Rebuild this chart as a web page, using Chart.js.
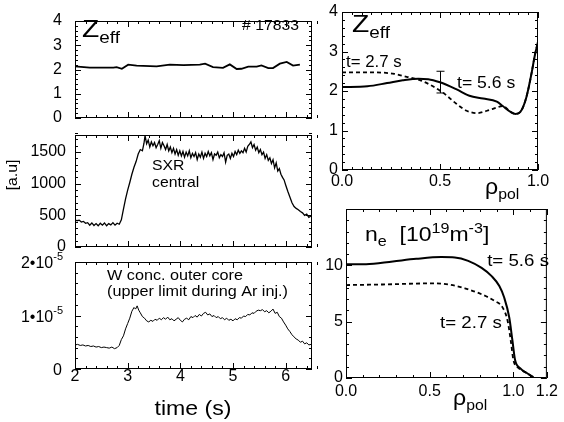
<!DOCTYPE html>
<html>
<head>
<meta charset="utf-8">
<script src="https://cdn.jsdelivr.net/npm/chart.js@4/dist/chart.umd.min.js"></script>
<style>
  body { margin: 0; background: #fff; }
  #wrap { position: relative; width: 564px; height: 422px; background: #fff; }
  #wrap canvas { position: absolute; left: 0; top: 0; }
</style>
</head>
<body>
<div id="wrap">
  <canvas id="zeffTime" width="564" height="422"></canvas>
  <canvas id="sxr" width="564" height="422"></canvas>
  <canvas id="wconc" width="564" height="422"></canvas>
  <canvas id="zeffProf" width="564" height="422"></canvas>
  <canvas id="neProf" width="564" height="422"></canvas>
</div>
<script>
// ---- data (shot # 17833) ----

// Zeff vs time
const zeffT = [2.00, 2.28, 2.73, 2.79, 2.89, 3.01, 3.17, 3.55, 3.80, 4.06, 4.37, 4.47, 4.62,
  4.81, 4.94, 5.07, 5.16, 5.29, 5.45, 5.54, 5.67, 5.76, 5.89, 6.02, 6.14, 6.27];
const zeffV = [2.13, 2.08, 2.08, 2.10, 2.03, 2.20, 2.16, 2.13, 2.20, 2.18, 2.20, 2.24, 2.10,
  2.07, 2.21, 2.02, 2.03, 2.12, 2.12, 2.17, 2.06, 2.06, 2.24, 2.31, 2.16, 2.20];

// SXR central [a.u]
const sxrT = [2.00, 2.04, 2.08, 2.12, 2.16, 2.20, 2.24, 2.28, 2.32, 2.36, 2.40, 2.44, 2.48, 2.52,
  2.56, 2.60, 2.64, 2.68, 2.72, 2.76, 2.80, 2.84, 2.88, 2.92, 2.96, 3.00, 3.04, 3.08, 3.12, 3.16,
  3.20, 3.24, 3.28, 3.31, 3.33, 3.36, 3.39, 3.42, 3.45, 3.48, 3.51, 3.54, 3.57, 3.60, 3.63, 3.66,
  3.69, 3.72, 3.75, 3.78, 3.81, 3.84, 3.87, 3.90, 3.93, 3.96, 3.99, 4.02, 4.05, 4.08, 4.11, 4.14,
  4.17, 4.20, 4.23, 4.26, 4.29, 4.32, 4.35, 4.38, 4.41, 4.44, 4.47, 4.50, 4.53, 4.56, 4.59, 4.62,
  4.65, 4.68, 4.71, 4.74, 4.77, 4.80, 4.83, 4.86, 4.89, 4.92, 4.95, 4.98, 5.01, 5.04, 5.07, 5.10,
  5.13, 5.16, 5.19, 5.22, 5.25, 5.28, 5.31, 5.34, 5.37, 5.40, 5.43, 5.46, 5.49, 5.52, 5.55, 5.58,
  5.61, 5.64, 5.67, 5.70, 5.73, 5.76, 5.79, 5.82, 5.85, 5.88, 5.91, 5.94, 5.97, 6.00, 6.04, 6.08,
  6.12, 6.16, 6.20, 6.24, 6.28, 6.32, 6.36, 6.40, 6.44, 6.48];
const sxrV = [430, 415, 425, 395, 405, 375, 385, 345, 380, 340, 370, 335, 375, 345,
  380, 335, 370, 350, 385, 345, 375, 360, 430, 600, 760, 900, 1020, 1150, 1260, 1350,
  1470, 1540, 1520, 1640, 1760, 1630, 1690, 1580, 1660, 1600, 1650, 1570, 1620, 1680, 1560, 1650,
  1600, 1540, 1620, 1520, 1580, 1490, 1560, 1470, 1540, 1450, 1520, 1440, 1510, 1420, 1500, 1440,
  1520, 1410, 1480, 1430, 1490, 1380, 1470, 1420, 1500, 1400, 1480, 1430, 1510, 1440, 1490, 1380,
  1470, 1450, 1500, 1410, 1460, 1430, 1490, 1340, 1450, 1470, 1400, 1480, 1430, 1510, 1460, 1530,
  1480, 1520, 1490, 1560, 1500, 1590, 1620, 1660, 1570, 1620, 1530, 1580, 1490, 1540, 1460, 1500,
  1400, 1460, 1370, 1410, 1320, 1380, 1250, 1330, 1200, 1240, 1150, 1100, 1060, 980, 880, 790,
  700, 640, 610, 590, 560, 540, 500, 520, 470, 490];

// W concentration, outer core, in units of 1e-5
const wT = [2.00, 2.05, 2.10, 2.15, 2.20, 2.25, 2.30, 2.35, 2.40, 2.45, 2.50, 2.55, 2.60, 2.65,
  2.70, 2.75, 2.80, 2.84, 2.88, 2.92, 2.96, 3.00, 3.04, 3.08, 3.12, 3.15, 3.18, 3.21, 3.24, 3.28,
  3.32, 3.36, 3.40, 3.44, 3.48, 3.52, 3.56, 3.60, 3.64, 3.68, 3.72, 3.76, 3.80, 3.84, 3.88, 3.92,
  3.96, 4.00, 4.04, 4.08, 4.12, 4.16, 4.20, 4.24, 4.28, 4.32, 4.36, 4.40, 4.44, 4.48, 4.52, 4.56,
  4.60, 4.64, 4.68, 4.72, 4.76, 4.80, 4.84, 4.88, 4.92, 4.96, 5.00, 5.04, 5.08, 5.12, 5.16, 5.20,
  5.24, 5.28, 5.32, 5.36, 5.40, 5.44, 5.48, 5.52, 5.56, 5.60, 5.64, 5.68, 5.72, 5.76, 5.80, 5.84,
  5.88, 5.92, 5.96, 6.00, 6.04, 6.08, 6.12, 6.16, 6.20, 6.24, 6.28, 6.32, 6.36, 6.40, 6.44, 6.48];
const wE5 = [0.45, 0.46, 0.44, 0.45, 0.43, 0.44, 0.42, 0.43, 0.41, 0.42, 0.40, 0.41, 0.40, 0.39,
  0.41, 0.38, 0.40, 0.44, 0.55, 0.62, 0.75, 0.85, 0.95, 1.08, 1.15, 1.12, 1.18, 1.10, 1.05, 0.98,
  0.95, 0.90, 0.88, 0.91, 0.89, 0.93, 0.91, 0.95, 0.92, 0.96, 0.93, 0.97, 0.92, 0.94, 0.90, 0.93,
  0.96, 0.91, 0.88, 0.93, 0.95, 0.92, 0.98, 0.96, 1.00, 0.97, 1.02, 0.99, 1.04, 1.06, 1.01, 1.03,
  0.98, 1.00, 0.96, 0.98, 0.94, 0.96, 0.92, 0.95, 0.91, 0.93, 0.90, 0.94, 0.92, 0.96, 0.95, 0.99,
  0.98, 1.02, 1.01, 1.05, 1.04, 1.08, 1.10, 1.09, 1.11, 1.07, 1.09, 1.05, 1.08, 1.12, 1.04, 1.06,
  0.98, 0.95, 0.88, 0.82, 0.75, 0.70, 0.64, 0.60, 0.56, 0.54, 0.50, 0.52, 0.47, 0.49, 0.45, 0.46];

// Zeff profiles vs rho_pol
const zpRho56 = [0.00, 0.13, 0.23, 0.31, 0.39, 0.44, 0.50, 0.585, 0.65, 0.72, 0.79, 0.82, 0.86,
  0.885, 0.91, 0.94, 0.966, 0.983, 1.00];
const zp56 = [2.10, 2.12, 2.20, 2.27, 2.31, 2.30, 2.22, 2.04, 1.88, 1.81, 1.73, 1.62, 1.47,
  1.42, 1.47, 1.83, 2.42, 2.88, 3.25];
const zpRho27 = [0.00, 0.16, 0.26, 0.33, 0.40, 0.47, 0.52, 0.585, 0.636, 0.69, 0.74, 0.79, 0.82,
  0.86, 0.885, 0.91, 0.94, 0.966, 0.983, 1.00];
const zp27 = [2.47, 2.47, 2.44, 2.36, 2.27, 2.10, 1.94, 1.67, 1.50, 1.44, 1.50, 1.58, 1.62,
  1.47, 1.42, 1.47, 1.83, 2.42, 2.88, 3.25];
const zpErr = { rho: 0.5, lo: 1.95, hi: 2.50 };

// ne profiles [1e19 m^-3] vs rho_pol
const neRho56 = [0.00, 0.12, 0.28, 0.42, 0.57, 0.65, 0.73, 0.81, 0.87, 0.916, 0.945, 0.975,
  0.994, 1.01, 1.04, 1.08, 1.12];
const ne56 = [10.1, 10.1, 10.35, 10.58, 10.73, 10.7, 10.4, 9.77, 9.04, 8.16, 7.14, 5.39,
  3.35, 1.6, 0.87, 0.44, 0.06];
const neRho27 = [0.00, 0.22, 0.51, 0.61, 0.71, 0.81, 0.886, 0.935, 0.965, 0.984, 1.00, 1.03,
  1.08, 1.12];
const ne27 = [8.25, 8.3, 8.4, 8.3, 7.96, 7.43, 6.85, 6.27, 5.1, 3.35, 1.6, 0.9, 0.44, 0.06];

// tick values
const timeTicks = [2, 3, 4, 5, 6];
const zeffTicks = [0, 1, 2, 3, 4];
const sxrTicks = [0, 500, 1000, 1500];
const wTicks = [0, 1, 2];
const wTickLabels = ['0', '1\u202210', '2\u202210'];
const rhoTicks = [0, 0.5, 1.0];
const rhoTicksNe = [0, 0.5, 1.0, 1.2];
const neTicks = [0, 5, 10];

// ---- drawing helpers ----
const FONT = '"Liberation Sans", Arial, Helvetica, sans-serif';
Chart.defaults.font.family = FONT;
Chart.defaults.color = '#000';

function pts(xs, ys) {
  return xs.map((x, i) => ({ x: x, y: ys[i] }));
}

// segs: [text, size, dy]; sx = horizontal stretch of the lettering
function rich(ctx, x, y, segs, align, sx) {
  sx = sx || 1.05;
  ctx.save();
  let w = 0;
  segs.forEach(g => { ctx.font = g[1] + 'px ' + FONT; w += ctx.measureText(g[0]).width; });
  w *= sx;
  let cx = align === 'right' ? x - w : align === 'center' ? x - w / 2 : x;
  ctx.fillStyle = '#000';
  ctx.textAlign = 'left';
  ctx.textBaseline = 'alphabetic';
  segs.forEach(g => {
    ctx.font = g[1] + 'px ' + FONT;
    const m = ctx.measureText(g[0]).width;
    ctx.save();
    ctx.translate(cx, y + (g[2] || 0));
    ctx.scale(sx, 1);
    ctx.fillText(g[0], 0, 0);
    ctx.restore();
    cx += m * sx;
  });
  ctx.restore();
}

// box with inward major/minor ticks on all four sides
const framePlugin = {
  id: 'frame',
  afterDatasetsDraw(chart, args, o) {
    const { ctx, chartArea: a, scales } = chart;
    ctx.save();
    ctx.strokeStyle = '#000';
    ctx.lineWidth = 1;
    ctx.strokeRect(a.left + 0.5, a.top + 0.5, a.right - a.left - 1, a.bottom - a.top - 1);
    ctx.beginPath();
    ['x', 'y'].forEach(k => {
      const sc = scales[k];
      const step = o[k + 'Minor'];
      const majors = o[k + 'Major'];
      const n = Math.round((sc.max - sc.min) / step);
      for (let i = 0; i <= n; i++) {
        const v = sc.min + i * step;
        const isMajor = majors.some(m => Math.abs(m - v) < step / 10);
        const len = isMajor ? 6 : 3;
        const p = Math.round(sc.getPixelForValue(v)) + 0.5;
        if (k === 'x') {
          ctx.moveTo(p, a.bottom); ctx.lineTo(p, a.bottom - len);
          ctx.moveTo(p, a.top); ctx.lineTo(p, a.top + len);
        } else {
          ctx.moveTo(a.left, p); ctx.lineTo(a.left + len, p);
          ctx.moveTo(a.right, p); ctx.lineTo(a.right - len, p);
        }
      }
    });
    ctx.stroke();
    ctx.restore();
  }
};

function panel(id, box, datasets, sx, sy, notes) {
  const AX = box[0] - 4, AY = 30;
  return new Chart(document.getElementById(id), {
    type: 'line',
    data: { datasets: datasets },
    options: {
      responsive: false,
      animation: false,
      devicePixelRatio: 1,
      layout: { padding: { left: box[0] - AX, top: box[1], right: 564 - box[2], bottom: 422 - box[3] - AY } },
      elements: { point: { radius: 0 } },
      plugins: {
        legend: { display: false },
        tooltip: { enabled: false },
        frame: { xMajor: sx.ticks, xMinor: sx.minor, yMajor: sy.ticks, yMinor: sy.minor }
      },
      scales: {
        x: {
          type: 'linear', min: sx.min, max: sx.max,
          afterFit: s => { s.height = AY; },
          afterBuildTicks: s => { s.ticks = sx.ticks.map(v => ({ value: v })); },
          grid: { display: false, drawTicks: false },
          border: { display: false },
          ticks: { display: sx.show, padding: sx.pad, font: { size: 16, lineHeight: 1 }, callback: sx.fmt, maxRotation: 0, autoSkip: false }
        },
        y: {
          type: 'linear', min: sy.min, max: sy.max,
          afterFit: s => { s.width = AX; },
          afterBuildTicks: s => { s.ticks = sy.ticks.map(v => ({ value: v })); },
          grid: { display: false, drawTicks: false },
          border: { display: false },
          ticks: { display: sy.show, padding: sy.pad, font: { size: 16, lineHeight: 1 }, callback: sy.fmt, autoSkip: false }
        }
      }
    },
    plugins: [framePlugin, { id: 'notes', afterDraw: chart => notes(chart.ctx, chart) }]
  });
}

const line = (xs, ys, w, dash, smooth) => ({
  data: pts(xs, ys),
  borderColor: '#000',
  borderWidth: w,
  borderDash: dash || [],
  fill: false,
  pointRadius: 0,
  cubicInterpolationMode: smooth ? 'monotone' : 'default',
  tension: 0
});

const timeAxis = (show) => ({ min: 2, max: 6.5, ticks: timeTicks, minor: 0.2, show: show, pad: 0, fmt: v => String(v) });

// Zeff(t)
panel('zeffTime', [75, 13, 312, 118],
  [line(zeffT, zeffV, 1.8)],
  timeAxis(false),
  { min: 0, max: 4, ticks: zeffTicks, minor: 0.2, show: true, pad: 13, fmt: v => String(v) },
  (ctx) => {
    rich(ctx, 82, 37, [['Z', 24], ['eff', 16, 6]], 'left', 1.18);
    rich(ctx, 299, 30, [['# 17833', 15]], 'right');
  });

// SXR central
panel('sxr', [75, 135, 312, 247],
  [line(sxrT, sxrV, 1.3)],
  timeAxis(false),
  { min: 0, max: 1770, ticks: sxrTicks, minor: 100, show: true, pad: 9, fmt: v => String(v) },
  (ctx) => {
    rich(ctx, 152, 170, [['SXR', 15]]);
    rich(ctx, 152, 187, [['central', 15]]);
    ctx.save();
    ctx.translate(12, 175);
    ctx.rotate(-Math.PI / 2);
    rich(ctx, 0, 5, [['[a.u]', 15]], 'center');
    ctx.restore();
  });

// W concentration
panel('wconc', [75, 262, 312, 369],
  [line(wT, wE5, 1)],
  timeAxis(true),
  { min: 0, max: 2, ticks: wTicks, minor: 0.2, show: false, pad: 9, fmt: v => String(v) },
  (ctx, chart) => {
    const y = chart.scales.y;
    wTicks.forEach((v, i) => {
      const py = y.getPixelForValue(v) + 6;
      if (i === 0) rich(ctx, 62, py, [[wTickLabels[i], 16]], 'right', 1);
      else rich(ctx, 63, py, [[wTickLabels[i], 16], ['-5', 11, -8]], 'right', 1);
    });
    rich(ctx, 107, 280, [['W conc. outer core', 15]], 'left', 1.08);
    rich(ctx, 107, 296, [['(upper limit during Ar inj.)', 15]], 'left', 1.08);
    rich(ctx, 193, 415, [['time (s)', 21]], 'center', 1.1);
  });

// Zeff profiles
panel('zeffProf', [342, 10, 538, 170],
  [line(zpRho27, zp27, 1.8, [4, 3], true), line(zpRho56, zp56, 2, null, true)],
  { min: 0, max: 1, ticks: rhoTicks, minor: 0.05, show: true, pad: 4, fmt: v => v.toFixed(1) },
  { min: 0, max: 4, ticks: zeffTicks, minor: 0.2, show: true, pad: 4, fmt: v => String(v) },
  (ctx, chart) => {
    const { x, y } = chart.scales;
    const px = Math.round(x.getPixelForValue(zpErr.rho)) + 0.5;
    const lo = y.getPixelForValue(zpErr.lo), hi = y.getPixelForValue(zpErr.hi);
    ctx.save();
    ctx.strokeStyle = '#000';
    ctx.lineWidth = 1;
    ctx.beginPath();
    ctx.moveTo(px, lo); ctx.lineTo(px, hi);
    ctx.moveTo(px - 4, lo); ctx.lineTo(px + 4, lo);
    ctx.moveTo(px - 4, hi); ctx.lineTo(px + 4, hi);
    ctx.stroke();
    ctx.restore();
    rich(ctx, 352, 32, [['Z', 24], ['eff', 16, 6]], 'left', 1.18);
    rich(ctx, 346, 67, [['t= 2.7 s', 16]]);
    rich(ctx, 457, 88, [['t= 5.6 s', 16]], 'left', 1.1);
    rich(ctx, 485, 194, [['\u03c1', 22], ['pol', 15, 5]]);
  });

// ne profiles
panel('neProf', [346, 209, 551, 378],
  [line(neRho27, ne27, 1.8, [4, 3], true), line(neRho56, ne56, 2, null, true)],
  { min: 0, max: 1.2, ticks: rhoTicksNe, minor: 0.1, show: true, pad: 6, fmt: v => v.toFixed(1) },
  { min: 0, max: 15, ticks: neTicks, minor: 1, show: true, pad: 3, fmt: v => String(v) },
  (ctx) => {
    rich(ctx, 365, 241, [['n', 20], ['e', 14, 5], ['  [10', 20], ['19', 14, -8], ['m', 20], ['-3', 14, -8], [']', 20]], 'left', 1.15);
    rich(ctx, 549, 266, [['t= 5.6 s', 17]], 'right', 1.1);
    rich(ctx, 440, 328, [['t= 2.7 s', 17]], 'left', 1.1);
    rich(ctx, 453, 405, [['\u03c1', 22], ['pol', 15, 5]]);
  });
</script>
</body>
</html>
